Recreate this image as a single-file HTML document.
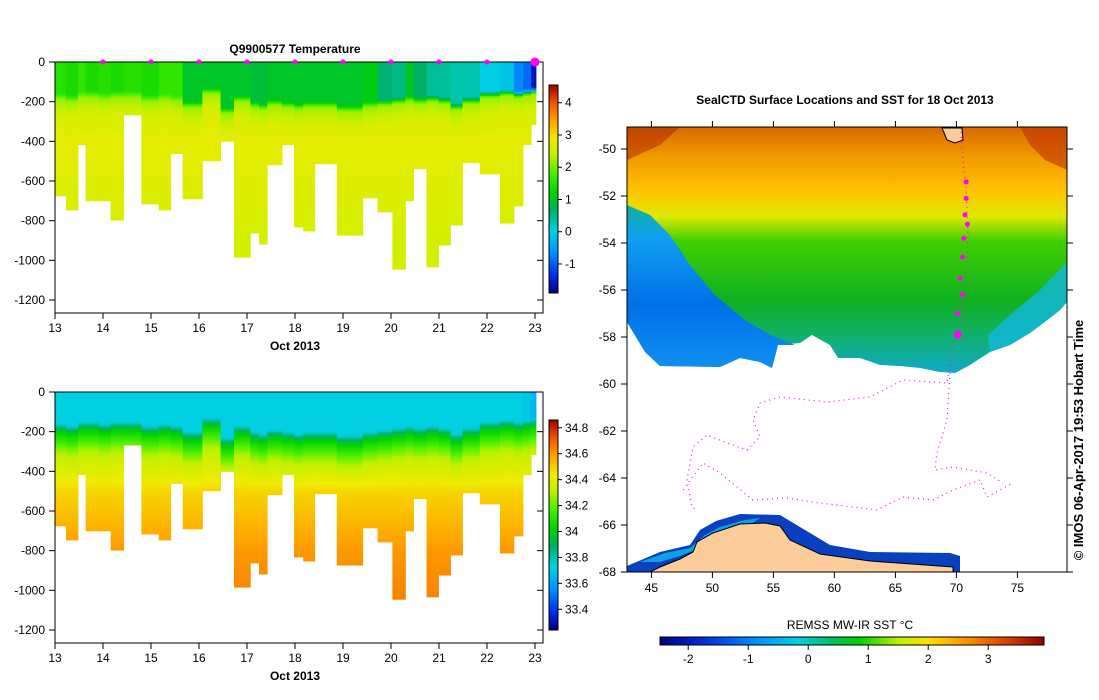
<!DOCTYPE html>
<html><head><meta charset="utf-8"><style>
html,body{margin:0;padding:0;background:#fff;}
svg{display:block;font-family:"Liberation Sans",sans-serif;}
</style></head><body>
<svg id="root" width="1099" height="700" viewBox="0 0 1099 700" xmlns="http://www.w3.org/2000/svg">
<defs>
<linearGradient id="tcb" x1="0" y1="1" x2="0" y2="0"></linearGradient>
<linearGradient id="scb" x1="0" y1="1" x2="0" y2="0"></linearGradient>
<linearGradient id="sstcb" x1="0" y1="0" x2="1" y2="0">
<stop offset="0" stop-color="#000080"/><stop offset="0.12" stop-color="#0030e0"/><stop offset="0.25" stop-color="#0090ff"/><stop offset="0.36" stop-color="#00d0e0"/><stop offset="0.45" stop-color="#00c060"/><stop offset="0.52" stop-color="#00d000"/><stop offset="0.62" stop-color="#c0f000"/><stop offset="0.7" stop-color="#ffe000"/><stop offset="0.8" stop-color="#ff9000"/><stop offset="0.9" stop-color="#e04000"/><stop offset="1" stop-color="#900000"/>
</linearGradient>
<linearGradient id="ocean" x1="0" y1="127" x2="0" y2="375" gradientUnits="userSpaceOnUse">
<stop offset="0" stop-color="#d86800"/><stop offset="0.12" stop-color="#f09a00"/><stop offset="0.25" stop-color="#ffc000"/><stop offset="0.36" stop-color="#e0e800"/><stop offset="0.46" stop-color="#40d000"/><stop offset="0.7" stop-color="#10b020"/><stop offset="0.85" stop-color="#10b070"/><stop offset="1" stop-color="#10a8d0"/>
</linearGradient>
<linearGradient id="bluel" x1="0" y1="205" x2="0" y2="370" gradientUnits="userSpaceOnUse">
<stop offset="0" stop-color="#10b0a0"/><stop offset="0.2" stop-color="#10a0f0"/><stop offset="0.6" stop-color="#0070e8"/><stop offset="1" stop-color="#1090f0"/>
</linearGradient>
</defs>

<g id="tplot"></g>
<text x="295" y="53" font-size="12" font-weight="bold" text-anchor="middle">Q9900577  Temperature</text>
<g id="splot"></g>

<g>
<text x="845" y="104" font-size="12" font-weight="bold" text-anchor="middle">SealCTD Surface Locations and SST for 18 Oct 2013</text>
<polygon fill="url(#ocean)" points="627,127 1067,127 1067,302 1060,310 1050,318 1030,333 1010,345 990,352 970,365 955,373 940,372 920,368 900,366 880,365 860,358 838,358 830,345 812,335 800,343 778,345 772,368 760,362 740,358 720,367 660,366 645,352 633,332 627,322"/>
<polygon fill="url(#bluel)" points="627,205 650,215 670,235 690,265 715,295 745,320 770,335 795,345 778,345 772,368 760,362 740,358 720,367 660,366 645,352 633,332 627,322"/>
<polygon fill="#10b8e0" opacity="0.8" points="1067,262 1067,302 1060,310 1050,318 1030,333 1010,345 990,352 988,335 1010,315 1040,290"/>
<polygon fill="#c03000" opacity="0.6" points="1020,127 1067,127 1067,170 1045,160 1030,145"/>
<polygon fill="#b02000" opacity="0.5" points="627,127 680,127 660,145 627,160"/>
<polygon fill="#0840c0" points="627,566 660,552 690,545 700,530 716,521 740,514 780,515 800,527 830,545 870,552 950,553 960,556 960,572 627,572"/>
<polygon fill="#10a0e8" points="640,562 665,553 690,548 705,535 720,527 745,520 760,518 745,528 720,538 700,548 680,556 660,562"/>
<polygon fill="#fccc9a" stroke="#000" stroke-width="1" points="650,572 660,567 680,559 693,552 697,542 713,533 740,524 765,523 780,526 790,540 820,554 870,561 953,567 953,572"/>
<polygon fill="#fccc9a" stroke="#000" stroke-width="1" points="942,128 962,128 963,140 955,143 947,140"/>
<polyline fill="none" stroke="#ff00ff" stroke-width="1.2" stroke-dasharray="1 4" points="961,132 963,160 966,190 968,230 966,270 963,300 960,325 955,345 950,365 947,383 903,380 870,397 827,402 780,397 760,403 753,420 760,437 747,450 727,443 707,435 693,447 687,480 692,507 697,510"/>
<polyline fill="none" stroke="#ff00ff" stroke-width="1.2" stroke-dasharray="1 4" points="683,490 703,463 720,473 737,487 753,500 787,498 820,503 853,507 877,510 903,497 933,500 953,490 980,480 987,497 1013,483"/>
<polyline fill="none" stroke="#ff00ff" stroke-width="1.2" stroke-dasharray="1 4" points="950,373 947,420 937,453 935,470 953,467 987,473 1003,483"/>
<g id="dives"></g>
<rect x="627" y="127" width="440" height="445" fill="none" stroke="#000" stroke-width="1"/>
<g id="mapaxes"></g>
<text x="850" y="629" font-size="12" text-anchor="middle">REMSS MW-IR SST °C</text>
<rect x="660" y="637" width="384" height="8" fill="url(#sstcb)" stroke="#000" stroke-width="1"/>
<g id="sstticks"></g>
<text transform="translate(1083,440) rotate(-90)" font-size="13" font-weight="bold" text-anchor="middle">© IMOS 06-Apr-2017 19:53 Hobart Time</text>
</g>
</svg>
<script>
const profileStart = [13.00,13.23,13.48,13.64,13.92,14.16,14.43,14.80,15.16,15.41,15.66,16.07,16.45,16.73,17.07,17.25,17.42,17.73,17.98,18.17,18.41,18.87,19.41,19.72,20.03,20.30,20.47,20.74,20.99,21.24,21.49,21.85,22.27,22.56,22.75,22.92];
const profileEnd = 23.02;
const maxDepth = [675,746,417,700,700,797,267,716,746,462,690,498,400,984,862,918,518,417,832,852,513,873,685,756,1045,700,538,1033,923,822,508,564,812,726,417,316];
const surfaceTemp = [1.5,1.4,1.6,1.4,1.5,1.4,1.5,1.4,1.6,1.6,1.0,1.0,1.0,1.0,0.9,0.9,1.0,1.0,1.0,1.0,1.0,1.0,1.1,0.6,0.5,1.0,0.7,0.4,0.4,0.3,0.3,0.0,-0.1,-0.7,-0.9,-1.6];
const mixedDepth = [160,170,150,150,160,150,150,170,160,170,200,130,230,170,200,210,190,200,210,200,200,220,200,190,180,170,180,170,180,210,180,150,140,150,140,130];
const surfaceSal = [33.72,33.72,33.72,33.72,33.72,33.72,33.72,33.72,33.72,33.72,33.72,33.72,33.72,33.72,33.72,33.72,33.72,33.72,33.72,33.72,33.72,33.72,33.72,33.72,33.72,33.72,33.72,33.72,33.72,33.72,33.72,33.72,33.72,33.72,33.7,33.65];
const dayTicks = [13,14,15,16,17,18,19,20,21,22,23];
const depthTicks = [0,-200,-400,-600,-800,-1000,-1200];
const tempTicks = [-1,0,1,2,3,4];
const salTicks = [33.4,33.6,33.8,34,34.2,34.4,34.6,34.8];
const sstTicks = [-2,-1,0,1,2,3];
const diveDays = [14,15,16,17,18,19,20,21,22,23];
const lonTicks = [45,50,55,60,65,70,75];
const latTicks = [-50,-52,-54,-56,-58,-60,-62,-64,-66,-68];
const mapLocLon = [70.8,70.8,70.7,70.9,70.6,70.5,70.3,70.5,70.1,70.1];
const mapLocLat = [-51.4,-52.1,-52.8,-53.2,-53.8,-54.6,-55.5,-56.2,-57.0,-57.9];

const NS='http://www.w3.org/2000/svg';
function mk(tag,attrs,parent){const e=document.createElementNS(NS,tag);for(const k in attrs)e.setAttribute(k,attrs[k]);parent.appendChild(e);return e;}

const cmap=[[0,[0,0,128]],[0.08,[0,40,230]],[0.2,[0,150,255]],[0.3,[0,210,225]],[0.4,[0,175,100]],[0.48,[0,210,0]],[0.58,[80,240,0]],[0.67,[200,240,0]],[0.74,[240,235,0]],[0.82,[255,170,0]],[0.91,[240,90,0]],[1,[160,0,0]]];
function col(t){t=Math.max(0,Math.min(1,t));for(let i=1;i<cmap.length;i++){if(t<=cmap[i][0]){const a=cmap[i-1],b=cmap[i];const f=(t-a[0])/(b[0]-a[0]);const c=a[1].map((v,j)=>Math.round(v+(b[1][j]-v)*f));return 'rgb('+c.join(',')+')';}}return 'rgb(160,0,0)';}
function fillGrad(id){const g=document.getElementById(id);cmap.forEach(s=>mk('stop',{offset:s[0],'stop-color':col(s[0])},g));}
fillGrad('tcb');fillGrad('scb');

function interp(xs,ys,x){if(x<=xs[0])return ys[0];for(let i=1;i<xs.length;i++){if(x<=xs[i]){const f=(x-xs[i-1])/(xs[i]-xs[i-1]);return ys[i-1]+(ys[i]-ys[i-1])*f;}}return ys[ys.length-1];}
function tempAt(i,z){const m=mixedDepth[i];if(z<m)return surfaceTemp[i];return interp([m,m+30,m+120,400,800,1100],[surfaceTemp[i],2.2,2.6,2.75,2.6,2.5],z);}
function salAt(i,z){const m=mixedDepth[i];if(z<m)return surfaceSal[i];return interp([m,m+40,m+150,500,800,1100],[surfaceSal[i],34.0,34.3,34.48,34.6,34.65],z);}

function section(gid,y0,valFn,vmin,vmax,cbId,cbTop,cbBot,ticks,tickFmt,dives){
  const g=document.getElementById(gid);
  const X=d=>55+(d-13)*48; const Y=z=>y0+z*(238/1200);
  for(let i=0;i<profileStart.length;i++){
    const xa=X(profileStart[i]), xb=X(i+1<profileStart.length?profileStart[i+1]:profileEnd);
    for(let z=0;z<maxDepth[i];z+=10){
      const zb=Math.min(z+10,maxDepth[i]);
      const r=mk('rect',{x:xa.toFixed(1),y:Y(z).toFixed(1),width:(xb-xa+0.4).toFixed(1),height:(Y(zb)-Y(z)+0.4).toFixed(1),fill:col((valFn(i,z+5)-vmin)/(vmax-vmin))},g);
      
      
    }
  }
  const fr=mk('rect',{x:55,y:y0,width:488,height:251,fill:'none',stroke:'#000','stroke-width':1},g);
  
  
  depthTicks.forEach(v=>{const y=Y(-v);
    mk('line',{x1:49,x2:55,y1:y,y2:y,stroke:'#000'},g);mk('line',{x1:537,x2:543,y1:y,y2:y,stroke:'#000'},g);
    const t=mk('text',{x:45,y:y+4,'font-size':12,'text-anchor':'end'},g);t.textContent=v;
    
    });
  dayTicks.forEach(d=>{const x=X(d);
    mk('line',{x1:x,x2:x,y1:y0+251,y2:y0+257,stroke:'#000'},g);
    const t=mk('text',{x:x,y:y0+270,'font-size':12,'text-anchor':'middle'},g);t.textContent=d;
    
    });
  const xl=mk('text',{x:295,y:y0+288,'font-size':12,'font-weight':'bold','text-anchor':'middle'},g);xl.textContent='Oct 2013';
  
  
  if(dives){diveDays.forEach((d,k)=>{const c=mk('circle',{cx:X(d),cy:y0,r:k==diveDays.length-1?4.5:2.5,fill:'#ff00ff'},g);
    
    });}
  const cb=mk('rect',{x:549,y:cbTop,width:9,height:cbBot-cbTop,fill:'url(#'+cbId+')',stroke:'#000'},g);
  
  
  ticks.forEach(v=>{const y=cbBot-(v-vmin)/(vmax-vmin)*(cbBot-cbTop);
    mk('line',{x1:558,x2:562,y1:y,y2:y,stroke:'#000'},g);
    const t=mk('text',{x:565,y:y+4,'font-size':12},g);t.textContent=tickFmt(v);
    
    });
}
section('tplot',62,tempAt,-1.9,4.55,'tcb',85,293,tempTicks,v=>String(v),true);
section('splot',392,salAt,33.24,34.86,'scb',420,630,salTicks,v=>String(+v.toFixed(1)),false);

const ma=document.getElementById('mapaxes');
const LX=lon=>627+(lon-43)*12.2, LY=lat=>149+(-50-lat)*23.5;
lonTicks.forEach(l=>{const x=LX(l);
  mk('line',{x1:x,x2:x,y1:572,y2:578,stroke:'#000'},ma);mk('line',{x1:x,x2:x,y1:121,y2:127,stroke:'#000'},ma);
  const t=mk('text',{x:x,y:592,'font-size':12,'text-anchor':'middle'},ma);t.textContent=l;
  
  });
latTicks.forEach(l=>{const y=LY(l);
  mk('line',{x1:621,x2:627,y1:y,y2:y,stroke:'#000'},ma);mk('line',{x1:1067,x2:1073,y1:y,y2:y,stroke:'#000'},ma);
  const t=mk('text',{x:616,y:y+4,'font-size':12,'text-anchor':'end'},ma);t.textContent=l;
  
  });
const dv=document.getElementById('dives');
mapLocLon.forEach((lon,k)=>{const c=mk('circle',{cx:LX(lon),cy:LY(mapLocLat[k]),r:k==mapLocLon.length-1?4:2.5,fill:'#ff00ff'},dv);
  
  });
const st=document.getElementById('sstticks');
sstTicks.forEach(v=>{const x=660+(v+2.47)*60;
  mk('line',{x1:x,x2:x,y1:645,y2:650,stroke:'#000'},st);
  const t=mk('text',{x:x,y:663,'font-size':12,'text-anchor':'middle'},st);t.textContent=v;
  
  });
</script>
</body></html>
